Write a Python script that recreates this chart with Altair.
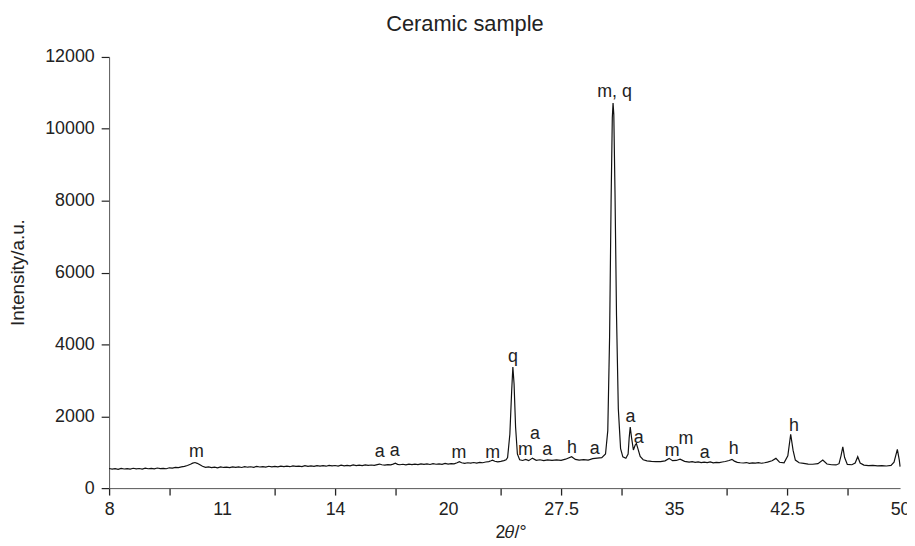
import altair as alt
import pandas as pd

chart_title = "Ceramic sample"

# ---- spectrum (2theta in degrees, intensity in a.u.) ----
two_theta = [
    -2.5, -2.3, -2.1, -1.9, -1.7, -1.5, -1.3, -1.1, -0.9, -0.7, -0.5, -0.3, -0.1, 0.1, 0.3, 0.5,
    0.7, 0.9, 1.1, 1.3, 1.5, 1.7, 1.9, 2.1, 2.3, 2.5, 2.7, 2.9, 3.05, 3.2, 3.35, 3.5, 3.7, 3.9,
    4.1, 4.3, 4.5, 4.7, 4.9, 5.1, 5.3, 5.5, 5.7, 5.9, 6.1, 6.3, 6.5, 6.7, 6.9, 7.1, 7.3, 7.5,
    7.7, 7.9, 8.1, 8.3, 8.5, 8.7, 8.9, 9.1, 9.3, 9.5, 9.7, 9.9, 10.1, 10.3, 10.5, 10.7, 10.9,
    11.1, 11.3, 11.5, 11.7, 11.9, 12.1, 12.3, 12.5, 12.7, 12.9, 13.1, 13.3, 13.5, 13.7, 13.9,
    14.1, 14.3, 14.5, 14.7, 14.9, 15.1, 15.3, 15.45, 15.6, 15.8, 16.0, 16.2, 16.35, 16.5, 16.65,
    16.8, 17.0, 17.2, 17.4, 17.6, 17.8, 18.0, 18.2, 18.4, 18.6, 18.8, 19.0, 19.2, 19.4, 19.6,
    19.8, 20.0, 20.2, 20.4, 20.6, 20.75, 20.9, 21.1, 21.3, 21.5, 21.7, 21.9, 22.1, 22.3, 22.5,
    22.7, 22.85, 22.95, 23.1, 23.3, 23.5, 23.7, 23.85,
    23.95, 24.1, 24.22, 24.3, 24.38, 24.48, 24.6, 24.75, 24.95, 25.15, 25.35, 25.6, 25.85, 26.1,
    26.35, 26.6, 26.9, 27.2, 27.5, 27.8, 28.2, 28.45, 28.7, 29.0, 29.3, 29.6, 29.9, 30.2, 30.45, 30.6,
    30.72, 30.82, 30.9, 30.95, 31.0, 31.08, 31.18, 31.3, 31.45, 31.6, 31.8, 31.95, 32.02, 32.09, 32.18,
    32.3, 32.42, 32.5, 32.6, 32.75, 32.95, 33.2, 33.5, 33.8, 34.1, 34.4, 34.67, 34.9, 35.15, 35.4, 35.7,
    36.0, 36.2, 36.4, 36.6, 36.8, 37.0, 37.2, 37.4, 37.6, 37.8, 38.0, 38.2, 38.4, 38.65, 38.84, 39.0,
    39.2, 39.4, 39.6, 39.8, 40.0, 40.2, 40.4, 40.6, 40.8, 41.0, 41.2, 41.5, 41.76,
    42.0, 42.3, 42.55, 42.74, 42.9, 43.05, 43.3, 43.6, 43.9, 44.2, 44.55, 44.87, 45.15, 45.45, 45.75,
    45.95, 46.08, 46.2, 46.32, 46.5, 46.8, 47.02, 47.19, 47.35, 47.6, 47.9, 48.2, 48.5, 48.8, 49.1,
    49.4, 49.6, 49.82, 49.95, 50.0,
]
intensity = [
    545, 528, 540, 522, 548, 533, 541, 527, 552, 536, 546, 531, 555, 540, 549, 536,
    560, 544, 552, 540, 566, 556, 578, 570, 590, 605, 630, 665, 695, 712, 690, 655, 610, 580,
    592, 572, 586, 566, 590, 575, 584, 570, 593, 578, 590, 575, 598, 582, 594, 580, 603, 588,
    600, 584, 608, 594, 603, 590, 614, 598, 610, 596, 618, 603, 614, 600, 624, 608, 619,
    606, 628, 613, 624, 610, 634, 618, 630, 615, 638, 622, 634, 620, 644, 628,
    640, 626, 648, 634, 644, 632, 655, 670, 650, 640, 656, 648, 668, 692, 662,
    650, 664, 648, 668, 652, 670, 656, 676, 660, 672, 658, 680, 664, 676, 662,
    686, 670, 684, 676, 705, 738, 705, 688, 706, 694, 712, 696, 718, 706, 728,
    738, 762, 780, 748, 732, 745, 765, 790,
    850, 1500, 2700, 3370, 2900, 1700, 950, 790, 770, 800, 765, 835, 772, 790,
    765, 788, 770, 785, 772, 805, 875, 800, 780, 792, 778, 820, 835, 850, 950, 1600,
    4200, 8000, 10300, 10720, 10400, 8200, 4800, 2200, 1100, 870, 830, 950, 1400, 1700, 1400,
    1060, 1200, 1240, 1100, 880, 790, 760, 745, 735, 740, 760, 828, 765, 770, 805, 745,
    725, 738, 718, 730, 708, 724, 712, 730, 702, 716, 708, 726, 742, 770, 800, 752,
    718, 706, 700, 712, 690, 704, 696, 708, 692, 706, 722, 760, 828,
    720, 705, 900, 1500, 1050, 780, 705, 690, 670, 665, 680, 782, 670, 650, 645,
    680, 900, 1150, 850, 660, 650, 700, 874, 700, 640, 625, 635, 620, 628, 615,
    632, 720, 1076, 780, 600,
]

# ---- phase annotations ----
label_text = ["m", "a", "a", "m", "m", "q", "m", "a", "a", "h", "a", "m, q",
              "a", "a", "m", "m", "a", "h", "h"]
label_x = [3.29, 15.46, 16.45, 20.72, 22.96, 24.31, 25.13, 25.76, 26.58, 28.22, 29.74, 31.05,
           32.11, 32.66, 34.87, 35.79, 37.04, 38.95, 42.96]
label_y = [993, 993, 1021, 966, 966, 3642, 1048, 1517, 1048, 1103, 1076, 11035,
           1986, 1407, 1021, 1352, 966, 1076, 1738]

# ---- axes ----
x_tick_values = [-2.5, 5, 12.5, 20, 27.5, 35, 42.5, 50]
x_tick_labels = ["8", "11", "14", "20", "27.5", "35", "42.5", "50"]
x_minor_ticks = [-2.5 + k for k in range(53)]
y_tick_values = [0, 2000, 4000, 6000, 8000, 10000, 12000]

spec = pd.DataFrame({"t": two_theta, "i": intensity})
labels = pd.DataFrame({"t": label_x, "i": label_y, "txt": label_text})
title_df = pd.DataFrame({"title": [chart_title]})

axis_values = sorted(set(x_minor_ticks) | set(x_tick_values))
label_expr = ""
for v, s in zip(x_tick_values, x_tick_labels):
    label_expr += f"datum.value == {v} ? '{s}' : "
label_expr += "''"
no_tick = [v for v in x_tick_values if v not in x_minor_ticks]
no_tick_test = "indexof([" + ",".join(str(v) for v in no_tick) + "], datum.value) >= 0"

FONT = "Liberation Sans"
TXT = "#222222"
AX = "#555555"
TK = "#222222"
x_scale = alt.Scale(domain=[-2.5, 50], nice=False, zero=False)
y_scale = alt.Scale(domain=[0, 12000], nice=False)

line = alt.Chart(spec).mark_line(color="#111111", strokeWidth=1.2).encode(
    x=alt.X("t:Q", scale=x_scale,
            axis=alt.Axis(values=axis_values, labelExpr=label_expr, labelOverlap=False,
                          labelFlush=False, grid=False, tickSize=7, tickWidth=1.3,
                          tickOpacity={"condition": {"test": no_tick_test, "value": 0}, "value": 1},
                          labelPadding=6, labelFontSize=18, labelFont=FONT, labelColor=TXT,
                          domainColor=AX, tickColor=TK,
                          title="2𝜃/°", titleFont=FONT, titleFontSize=18, titleFontWeight="normal",
                          titleColor=TXT, titleX=405, titleY=50, titleBaseline="alphabetic")),
    y=alt.Y("i:Q", scale=y_scale,
            axis=alt.Axis(values=y_tick_values, format="d", grid=False, tickSize=8, tickWidth=1.2,
                          labelPadding=7, labelFontSize=18, labelFont=FONT, labelColor=TXT,
                          domainColor=AX, tickColor=TK,
                          title="Intensity/a.u.", titleFont=FONT, titleFontSize=19,
                          titleFontWeight="normal", titleColor=TXT,
                          titleX=-92, titleY=217, titleBaseline="middle", titleAngle=270)),
)

text = alt.Chart(labels).mark_text(font=FONT, fontSize=18, color=TXT,
                                   baseline="middle", align="center").encode(
    x=alt.X("t:Q", scale=x_scale),
    y=alt.Y("i:Q", scale=y_scale),
    text="txt:N",
)

title = alt.Chart(title_df).mark_text(font=FONT, fontSize=22, color=TXT,
                                      baseline="alphabetic", align="center").encode(
    text="title:N",
    x=alt.value(359),
    y=alt.value(-26),
)

chart = alt.layer(line, text, title).properties(
    width=798,
    height=435,
    autosize=alt.AutoSizeParams(type="none"),
    padding={"left": 102, "top": 47, "right": 7, "bottom": 56},
).configure_view(stroke=None)

chart.save("out.html", embed_options={"renderer": "svg", "actions": False})
